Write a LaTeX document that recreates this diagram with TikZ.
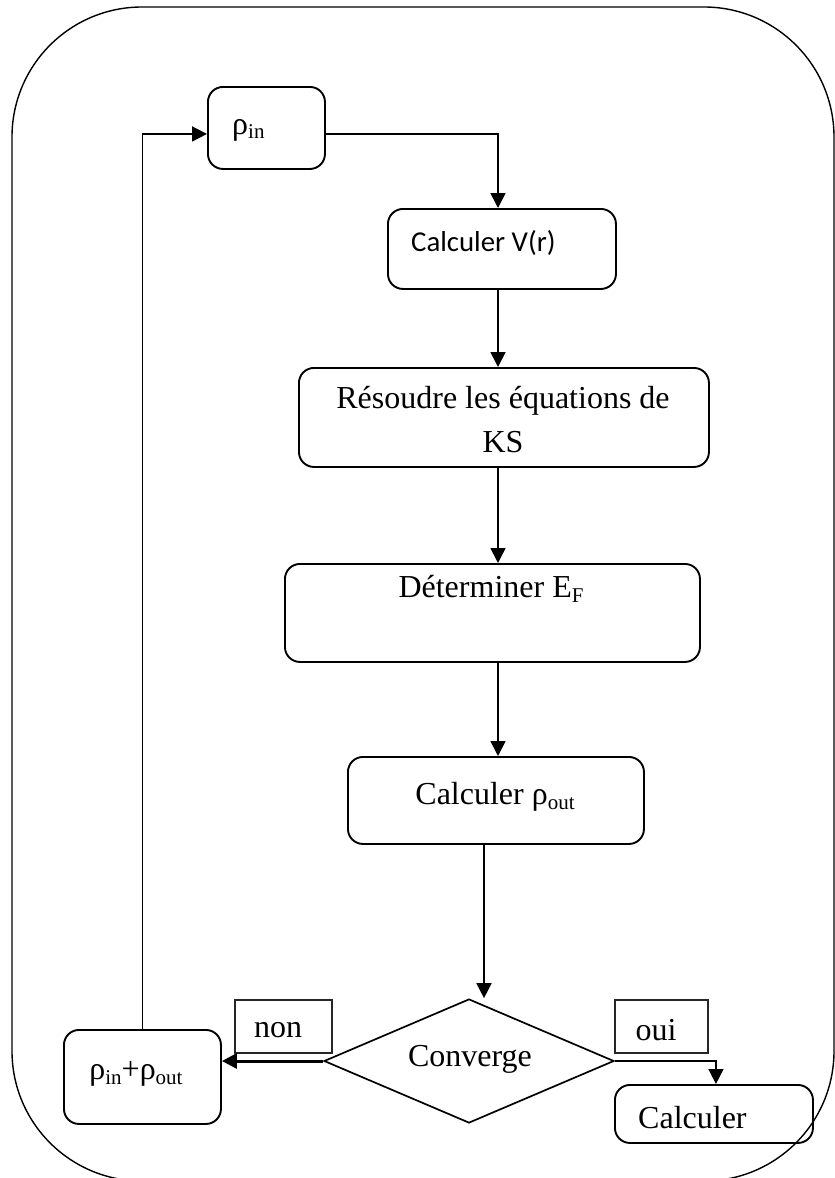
\documentclass[tikz,border=0pt]{standalone}
\usepackage{fontspec}
\setmainfont{Liberation Serif}
\newfontfamily\calib{Carlito}
\usetikzlibrary{arrows.meta,shapes.geometric}
\newcommand{\sbs}[1]{\raisebox{-0.14em}{\fontsize{21}{21}\selectfont #1}}
\begin{document}
\begin{tikzpicture}[x=1pt,y=-1pt,
  box/.style={draw, line width=1.9pt, rounded corners=15pt, inner sep=0pt, anchor=north west},
  lbl/.style={draw=black!85, line width=1.6pt, inner sep=0pt, anchor=north west},
  txt/.style={inner sep=0pt, font=\fontsize{32}{44}\selectfont},
  arr/.style={line width=1.7pt, -{Triangle[length=15pt,width=15pt]}}]
\useasboundingbox (0,0) rectangle (835,1178);
% outer frame
\draw[line width=1.4pt, rounded corners=130pt] (12,7) rectangle (834,1181);
% columns used by the vertical connectors
\coordinate (col) at (498,0);
\coordinate (cd) at (484,0);
% boxes
\node[box, minimum width=117, minimum height=82] (rin) at (207,86) {};
\node[txt, anchor=west] (rint) at (232,130) {ρ\sbs{in}};
\node[box, minimum width=228, minimum height=80] (vr) at (387,208) {};
\node[txt, anchor=west, font=\calib\fontsize{28.8}{34}\selectfont] (vrt) at (411,243) {Calculer V(r)};
\node[box, minimum width=410, minimum height=99] (res) at (298,367) {};
\node[txt, align=center] (rest) at (503,420) {Résoudre les équations de\\KS};
\node[box, minimum width=415, minimum height=98] (det) at (284,563) {};
\node[txt] (dett) at (491,589) {Déterminer E\sbs{F}};
\node[box, minimum width=296, minimum height=87] (cout) at (347,756) {};
\node[txt] (coutt) at (495,797) {Calculer ρ\sbs{out}};
\node[draw, line width=1.7pt, diamond, aspect=2.34, minimum width=290, minimum height=124, inner sep=0pt] (conv) at (469,1061) {};
\node[txt] (convt) at (470,1059) {Converge};
\node[lbl, minimum width=97, minimum height=53] (non) at (234,999) {};
\node[txt] (nont) at (278,1030) {non};
\node[lbl, minimum width=93, minimum height=53] (oui) at (614,999) {};
\node[txt] (ouit) at (656,1030) {oui};
\node[box, minimum width=157, minimum height=94] (rr) at (63,1029) {};
\node[txt] (rrt) at (136,1074) {ρ\sbs{in}+ρ\sbs{out}};
\node[box, minimum width=198, minimum height=58] (calc) at (614,1084) {};
\node[txt, anchor=west] (calct) at (638,1118) {Calculer};
% connectors
\draw[arr] ([yshift=-6pt]rin.east) -| (col |- vr.north);
\draw[arr] (col |- vr.south) -- (col |- res.north);
\draw[arr] (col |- res.south) -- (col |- det.north);
\draw[arr] (col |- det.south) -- (col |- cout.north);
\draw[arr] (cd |- cout.south) -- (cd |- conv.north);
\draw[line width=3pt, -{Triangle[length=15pt,width=15pt]}] (conv.west) -- (conv.west -| rr.east);
\draw[arr] (conv.east) -| ([xshift=2pt]calc.north);
\draw[arr] (rr.north) |- ([yshift=-6pt]rin.west);
\end{tikzpicture}
\end{document}
